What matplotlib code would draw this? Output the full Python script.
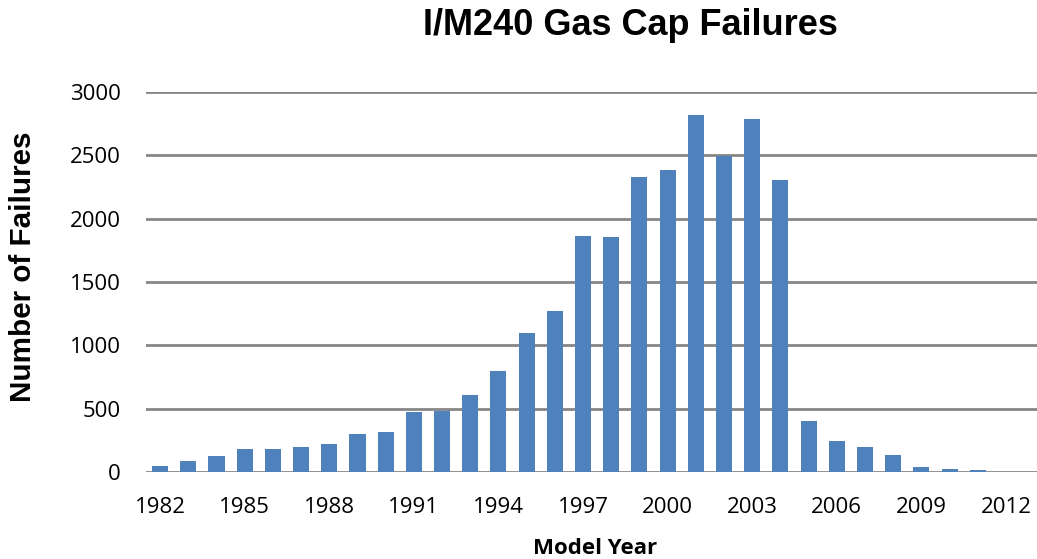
import matplotlib.pyplot as plt
import numpy as np

years = list(range(1982, 2013))
failures = [51, 83, 123, 179, 179, 197, 221, 298, 319, 474, 482,
            607, 799, 1097, 1271, 1867, 1857, 2331, 2387, 2822, 2497,
            2785, 2302, 399, 248, 198, 137, 37, 24, 19, 2]
tick_years = list(range(1982, 2013, 3))

W, H = 1037, 559
fig = plt.figure(figsize=(W / 100, H / 100), dpi=100)
ax = fig.add_axes([146 / W, 1 - 472 / H, (W - 146) / W, (472 - 92) / H])

x = np.arange(len(years))
ax.bar(x, failures, width=0.57, color="#4F81BD", zorder=3)

ax.set_xlim(-0.5, 31.1)
ax.set_ylim(0, 3000)
ax.set_yticks(range(0, 3001, 500))
ax.set_xticks([years.index(y) for y in tick_years])
ax.set_xticklabels([str(y) for y in tick_years])
ax.grid(axis="y", color="#868686", linewidth=2, zorder=0)
ax.set_axisbelow(True)
for s in ax.spines.values():
    s.set_visible(False)
ax.tick_params(length=0, labelsize=16)
ax.tick_params(axis="x", pad=18)
ax.tick_params(axis="y", pad=18)
for lab in ax.get_xticklabels() + ax.get_yticklabels():
    lab.set_fontfamily("Open Sans")

fig.text(630 / W, 1 - 35 / H, "I/M240 Gas Cap Failures", ha="center", va="baseline",
         fontsize=26, fontweight="bold", family="Liberation Sans")
fig.text(23 / W, 1 - 267 / H, "Number of Failures", ha="center", va="center",
         rotation=90, fontsize=21.3, fontweight="bold", family="Liberation Sans")
fig.text(595 / W, 1 - 554 / H, "Model Year", ha="center", va="baseline",
         fontsize=16, fontweight="bold", family="Open Sans")

fig.savefig("out.png", dpi=100)
